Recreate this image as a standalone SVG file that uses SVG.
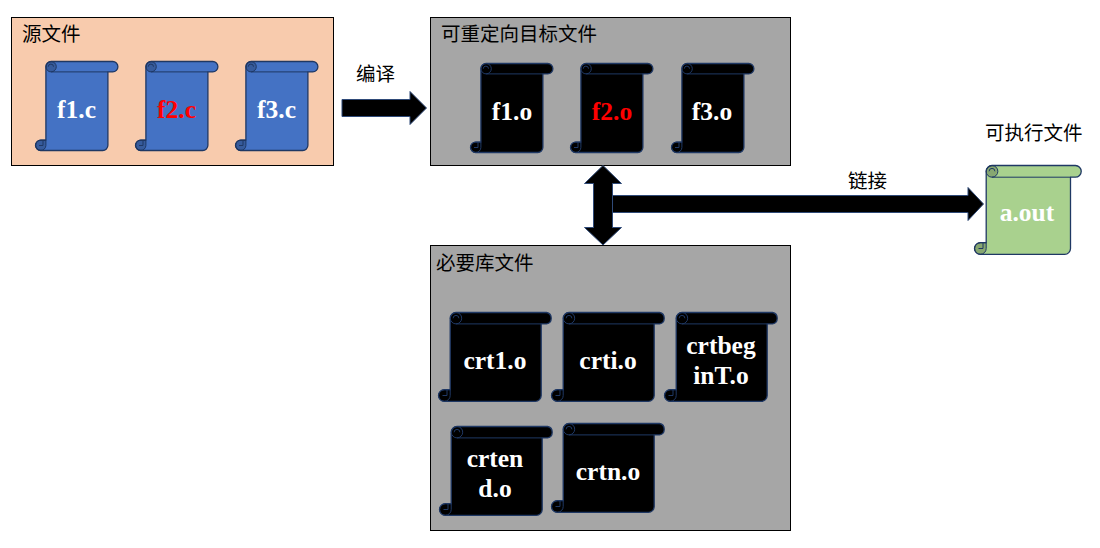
<svg xmlns="http://www.w3.org/2000/svg" width="1100" height="548" viewBox="0 0 1100 548">
<style>
.panel{stroke:#000;stroke-width:1}
.gray{fill:#a6a6a6}
.cap{font-family:"Noto Sans CJK SC","Liberation Sans",sans-serif;font-size:19.5px;fill:#000}
.lbl{font-family:"Liberation Serif",serif;font-weight:bold;font-size:25.5px;fill:#fff;text-anchor:middle}
.red{fill:#f00}
.arrow{fill:#000;stroke:#2f4a78;stroke-width:1}
.s{stroke-width:1.3;stroke-linejoin:round}
.b{fill:#4472c4;stroke:#1f3864}
.k{fill:#000;stroke:#1f3864}
.g{fill:#a9d18e;stroke:#1f3864}
.sh{stroke:#1f3864;stroke-width:1;fill:none}
.cu{fill:#000;fill-opacity:.2;stroke:#1f3864;stroke-width:1}
</style>
<defs>
<g id="sa">
<path class="s" d="M10.400 5.200A5.200 5.200 0 0 1 15.600 0H77.200A5.200 5.200 0 0 1 77.200 10.400H72.400V83.800A5.200 5.200 0 0 1 67.200 89H5.200A5.200 5.200 0 0 1 5.200 78.600H10.400Z"/>
<path class="cu" d="M15.600 0A5.200 5.200 0 0 1 15.600 10.400A5.200 5.200 0 0 1 15.600 0Z"/>
<path class="cu" d="M5.200 78.600H10.400V84A5.200 5.200 0 0 1 5.200 89A5.200 5.200 0 0 1 5.200 78.600Z"/>
<path class="sh" d="M15.600 10.400H72.400M12.800 5.200A2.600 2.600 0 0 1 18 5.200M7.500 78.600V84H3.500"/>
</g>
<g id="sb">
<path class="s" d="M11.700 5.800A5.800 5.800 0 0 1 17.500 0H100.900A5.800 5.800 0 0 1 100.900 11.700H96V83A5.800 5.800 0 0 1 90.200 88.800H5.800A5.800 5.800 0 0 1 5.800 77.200H11.700Z"/>
<path class="cu" d="M17.500 0A5.800 5.800 0 0 1 17.500 11.700A5.800 5.800 0 0 1 17.500 0Z"/>
<path class="cu" d="M5.800 77.200H11.700V83A5.800 5.800 0 0 1 5.800 88.800A5.800 5.800 0 0 1 5.800 77.200Z"/>
<path class="sh" d="M17.500 11.700H96M14.600 5.800A2.900 2.900 0 0 1 20.400 5.800M8.500 77.200V83H4"/>
</g>
<g id="sc">
<path class="s" d="M11.700 5.800A5.800 5.800 0 0 1 17.500 0H108A5.800 5.800 0 0 1 108 11.400H102.700V83A5.800 5.800 0 0 1 96.900 88.800H5.800A5.800 5.800 0 0 1 5.800 77.200H11.700Z"/>
<path class="cu" d="M17.500 0A5.700 5.700 0 0 1 17.500 11.400A5.700 5.700 0 0 1 17.500 0Z"/>
<path class="cu" d="M5.800 77.200H11.700V83A5.800 5.800 0 0 1 5.800 88.800A5.800 5.800 0 0 1 5.800 77.200Z"/>
<path class="sh" d="M17.500 11.400H102.700M14.600 5.800A2.900 2.900 0 0 1 20.400 5.800M8.500 77.200V83H4"/>
</g>
</defs>

<g id="panel-source">
<rect class="panel" x="11.500" y="17.500" width="322" height="148" fill="#f8cbad"/>
<text class="cap" x="22" y="41">源文件</text>
</g>
<g id="panel-object">
<rect class="panel gray" x="430.500" y="17.500" width="360" height="148"/>
<text class="cap" x="441" y="41">可重定向目标文件</text>
</g>
<g id="panel-lib">
<rect class="panel gray" x="430.500" y="245.500" width="360" height="285"/>
<text class="cap" x="436" y="270">必要库文件</text>
</g>

<g id="connectors">
<path id="compile" class="arrow" d="M342 99.500H410V91.500L426.500 108L410 124.500V116.500H342Z"/>
<path id="link-both" class="arrow" d="M603 165.500L621.500 183.500H612.500V227.500H621.500L603 245L584.500 227.500H593.500V183.500H584.500Z"/>
<path id="link" class="arrow" d="M612.500 195.500H968V187.500L983.500 204L968 220.500V212.500H612.500Z"/>
</g>
<text class="cap" x="356" y="81">编译</text>
<text class="cap" x="848" y="188">链接</text>
<text class="cap" x="985" y="140">可执行文件</text>

<g id="f1c"><use href="#sa" class="b" x="35.500" y="61.500"/><text class="lbl" x="76.500" y="118">f1.c</text></g>
<g id="f2c"><use href="#sa" class="b" x="135.500" y="61.500"/><text class="lbl red" x="176.500" y="118">f2.c</text></g>
<g id="f3c"><use href="#sa" class="b" x="235.500" y="61.500"/><text class="lbl" x="276.500" y="118">f3.c</text></g>

<g id="f1o"><use href="#sa" class="k" x="470.500" y="63.500"/><text class="lbl" x="512" y="120">f1.o</text></g>
<g id="f2o"><use href="#sa" class="k" x="570.500" y="63.500"/><text class="lbl red" x="612" y="120">f2.o</text></g>
<g id="f3o"><use href="#sa" class="k" x="671.500" y="63.500"/><text class="lbl" x="712" y="120">f3.o</text></g>

<g id="aout"><use href="#sb" class="g" x="974.500" y="165.500"/><text class="lbl" x="1027" y="221">a.out</text></g>

<g id="crt1"><use href="#sc" class="k" x="438.500" y="312.500"/><text class="lbl" x="495" y="369">crt1.o</text></g>
<g id="crti"><use href="#sc" class="k" x="551.500" y="312.500"/><text class="lbl" x="608" y="369">crti.o</text></g>
<g id="crtbegin"><use href="#sc" class="k" x="664.500" y="312.500"/><text class="lbl" x="721" y="354">crtbeg</text><text class="lbl" x="721" y="384">inT.o</text></g>
<g id="crtend"><use href="#sc" class="k" x="439.500" y="426.500"/><text class="lbl" x="495" y="467">crten</text><text class="lbl" x="495" y="497">d.o</text></g>
<g id="crtn"><use href="#sc" class="k" x="551.500" y="423.500"/><text class="lbl" x="608" y="480">crtn.o</text></g>
</svg>
